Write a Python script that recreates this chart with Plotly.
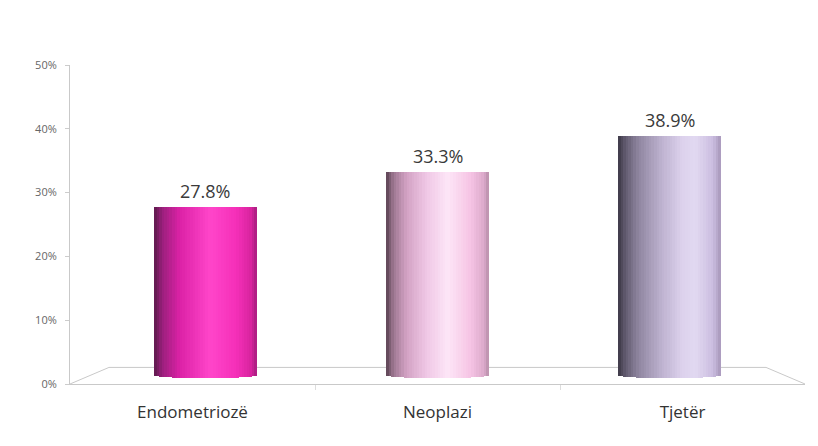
import plotly.graph_objects as go

# ---- data ----
categories = ["Endometriozë", "Neoplazi", "Tjetër"]
shares = [27.8, 33.3, 38.9]          # percent
y_ticks = [0, 10, 20, 30, 40, 50]

# ---- styling constants ----
FONT = "Open Sans"
N_SLICES = 40            # vertical strips used to shade each cylinder
BAR_WIDTH = 0.444        # in category units
BASE = 1.4               # floor mid-depth, in % units
BULGE = 0.5              # depth of the cylinder's bottom ellipse
FLOOR_DEPTH = 2.6        # back edge of the floor, in % units
FRONT_SCALE = 1.056      # perspective: front edge is wider than the bar plane
BACK_SCALE = 0.944       # ... and the back edge narrower
LINE_COL = "#c9c9c9"

# horizontal shading stops (position, colour) for each cylinder
shading = [
    [(0.00, "#5e1a4c"), (0.08, "#9a1f7c"), (0.25, "#dc22a6"), (0.55, "#ff45ca"),
     (0.80, "#f52fb8"), (0.94, "#d8249f"), (1.00, "#a81e80")],
    [(0.00, "#5a4252"), (0.07, "#9c7690"), (0.20, "#d3a2c4"), (0.40, "#f0c8e6"),
     (0.60, "#fde6f7"), (0.82, "#f6c4e4"), (0.95, "#dcaacb"), (1.00, "#b890aa")],
    [(0.00, "#3c3846"), (0.07, "#615a6e"), (0.20, "#8f86a0"), (0.42, "#bdb1cf"),
     (0.62, "#dcd1ec"), (0.75, "#e2d9f1"), (0.92, "#cbbde0"), (1.00, "#a797ba")],
]


def hex_to_rgb(h):
    h = h.lstrip("#")
    return tuple(int(h[i:i + 2], 16) for i in (0, 2, 4))


def sample(stops, t):
    for (p0, c0), (p1, c1) in zip(stops, stops[1:]):
        if p0 <= t <= p1:
            f = 0 if p1 == p0 else (t - p0) / (p1 - p0)
            a, b = hex_to_rgb(c0), hex_to_rgb(c1)
            r, g, bl = (round(a[k] + (b[k] - a[k]) * f) for k in range(3))
            return f"rgb({r},{g},{bl})"
    return stops[-1][1]


n = len(categories)
pos = list(range(n))
mid = (n - 1) / 2


def front(p):
    return mid + (p - mid) * FRONT_SCALE


def back(p):
    return mid + (p - mid) * BACK_SCALE


fig = go.Figure()

# cylinders: each bar is built from thin vertical strips with shaded colours
strip = BAR_WIDTH / N_SLICES
for i in range(N_SLICES):
    t = (i + 0.5) / N_SLICES
    u = 2 * t - 1
    base = BASE - BULGE * (1 - u * u) ** 0.5
    fig.add_trace(go.Bar(
        x=pos,
        y=[v - base for v in shares],
        base=[base] * n,
        width=strip * 1.1,
        offset=-BAR_WIDTH / 2 + i * strip,
        marker=dict(color=[sample(s, t) for s in shading], line=dict(width=0)),
        showlegend=False, hoverinfo="skip",
    ))

# value labels above each cylinder
annotations = [
    dict(x=p, y=v, xref="x", yref="y", text=f"{v:.1f}%", showarrow=False,
         yanchor="bottom", yshift=2,
         font=dict(family=FONT, size=18, color="#3a3a3a"))
    for p, v in zip(pos, shares)
]

# floor outline (back edge and the two receding sides)
fl, fr = front(-0.5), front(n - 0.5)
bl, br = back(-0.5), back(n - 0.5)
floor_lines = [
    (bl, FLOOR_DEPTH, br, FLOOR_DEPTH),
    (fl, 0, bl, FLOOR_DEPTH),
    (fr, 0, br, FLOOR_DEPTH),
]
shapes = [
    dict(type="line", xref="x", yref="y", x0=a, y0=b, x1=c, y1=d,
         line=dict(color=LINE_COL, width=1), layer="below")
    for a, b, c, d in floor_lines
]

fig.update_layout(
    width=818, height=446,
    margin=dict(l=70, r=13, t=65, b=62),
    paper_bgcolor="white", plot_bgcolor="white",
    barmode="overlay", bargap=0,
    shapes=shapes,
    annotations=annotations,
    xaxis=dict(
        range=[fl, fr],
        tickvals=[front(p) for p in pos], ticktext=categories,
        showline=True, linecolor=LINE_COL, linewidth=1,
        ticks="", ticklabelstandoff=13,
        minor=dict(tickvals=[front(p + 0.5) for p in pos[:-1]],
                   ticks="outside", ticklen=5, tickcolor="#dddddd", showgrid=False),
        showgrid=False, zeroline=False,
        tickfont=dict(family=FONT, size=17, color="#333333"),
    ),
    yaxis=dict(
        range=[0, 50], tickvals=y_ticks, ticktext=[f"{v}%" for v in y_ticks],
        showline=True, linecolor=LINE_COL, linewidth=1,
        ticks="outside", ticklen=4, tickcolor="#cccccc",
        ticklabelstandoff=6, showgrid=False, zeroline=False,
        tickfont=dict(family=FONT, size=11, color="#666666"),
    ),
)

fig.write_html("out.html")
